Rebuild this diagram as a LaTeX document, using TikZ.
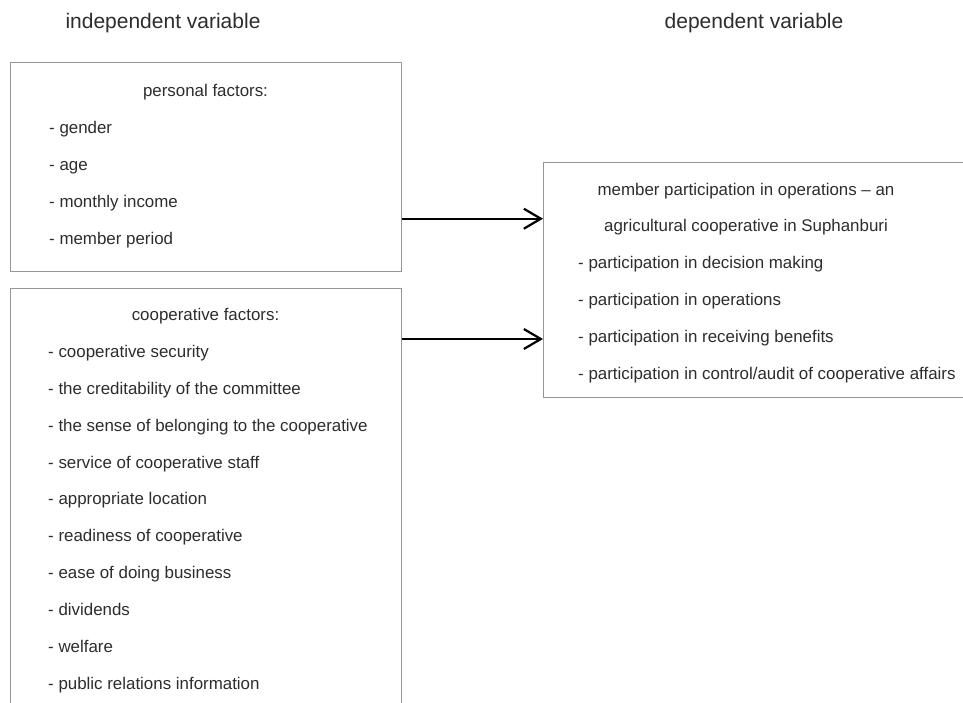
\documentclass[tikz,border=0pt]{standalone}
\usepackage{fontspec}
\usetikzlibrary{arrows.meta}
\newfontfamily\bodyfont{Liberation Sans}
\definecolor{boxgray}{RGB}{150,150,150}
\definecolor{txtgray}{RGB}{45,45,45}
\tikzset{
  frame/.style={draw=boxgray, line width=1.1pt, fill=none},
  item/.style={anchor=base west, inner sep=0pt, text=txtgray, font=\bodyfont\fontsize{16.9}{20}\selectfont},
  head/.style={anchor=base, inner sep=0pt, text=txtgray, font=\bodyfont\fontsize{16.9}{20}\selectfont},
  title/.style={anchor=base, inner sep=0pt, text=txtgray, font=\bodyfont\fontsize{21}{24}\selectfont},
  link/.style={draw=black, line width=2.2pt, -{Straight Barb[length=17pt,width=20pt,line width=2.2pt]}}
}
\begin{document}
\begin{tikzpicture}[x=1pt,y=-1pt]
\clip (0,0) rectangle (963,702);
\fill[white] (0,0) rectangle (963,702);
% boxes
\node[frame, rectangle, minimum width=391pt, minimum height=209pt, anchor=north west, inner sep=0pt] (b1) at (10,62) {};
\node[frame, rectangle, minimum width=391pt, minimum height=450pt, anchor=north west, inner sep=0pt] (b2) at (10,288) {};
\node[frame, rectangle, minimum width=460pt, minimum height=235pt, anchor=north west, inner sep=0pt] (b3) at (543,162) {};
% titles
\node[title] (tl) at (163,28.3) {independent variable};
\node[title] (tr) at (754,28.3) {dependent variable};
% box 1
\node[head] (h1) at (205.5,96.8) {personal factors:};
\foreach \t [count=\i] in {- gender, - age, - monthly income, - member period}
  \node[item] (p\i) at (49,{96.8+36.8*\i}) {\t};
% box 2
\node[head] (h2) at (205.5,320.7) {cooperative factors:};
\foreach \t [count=\i] in {- cooperative security, - the creditability of the committee, - the sense of belonging to the cooperative, - service of cooperative staff, - appropriate location, - readiness of cooperative, - ease of doing business, - dividends, - welfare, - public relations information}
  \node[item] (c\i) at (48,{320.7+36.85*\i}) {\t};
% box 3
\node[head] (h3a) at (746,195) {member participation in operations – an};
\node[head] (h3b) at (746,231.8) {agricultural cooperative in Suphanburi};
\foreach \t [count=\i] in {- participation in decision making, - participation in operations, - participation in receiving benefits, - participation in control/audit of cooperative affairs}
  \node[item] (d\i) at (578,{231.8+36.8*\i}) {\t};
% arrows
\draw[link] (b1.east |- 0,218.7) -- (b3.west |- 0,218.7);
\draw[link] (b2.east |- 0,339) -- (b3.west |- 0,339);
\end{tikzpicture}
\end{document}
